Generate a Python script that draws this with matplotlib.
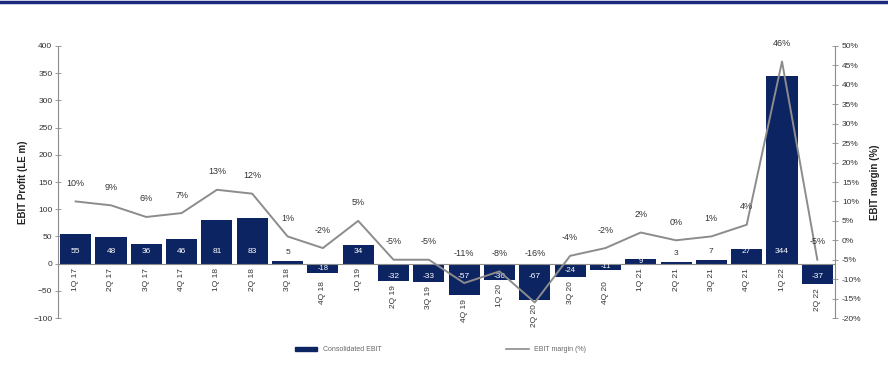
import matplotlib
matplotlib.use("Agg")
import matplotlib.pyplot as plt
from matplotlib.lines import Line2D
from matplotlib.patches import Patch

plt.rcParams['font.family'] = ['Liberation Sans', 'DejaVu Sans']

# quarterly EBIT (LE m) and EBIT margin (%)
quarters = ["1Q 17", "2Q 17", "3Q 17", "4Q 17", "1Q 18", "2Q 18", "3Q 18", "4Q 18",
            "1Q 19", "2Q 19", "3Q 19", "4Q 19", "1Q 20", "2Q 20", "3Q 20", "4Q 20",
            "1Q 21", "2Q 21", "3Q 21", "4Q 21", "1Q 22", "2Q 22"]
ebit = [55, 48, 36, 46, 81, 83, 5, -18, 34, -32, -33, -57, -30, -67, -24, -11,
        9, 3, 7, 27, 344, -37]
margin = [10, 9, 6, 7, 13, 12, 1, -2, 5, -5, -5, -11, -8, -16, -4, -2,
          2, 0, 1, 4, 46, -5]

navy = "#0d2462"
grey = "#8c8c8c"
txt = "#333333"

fig = plt.figure(figsize=(8.88, 3.82), dpi=100)
ax = fig.add_axes([0.0653, 0.1675, 0.875, 0.7121])
ax2 = ax.twinx()

x = list(range(len(quarters)))
ax.bar(x, ebit, width=0.88, color=navy, zorder=2)
ax.set_xlim(-0.5, len(quarters) - 0.5)
ax.set_ylim(-100, 400)
ax.set_yticks(range(-100, 401, 50))
ax.tick_params(axis='y', labelsize=6, colors=txt, direction='inout', length=4,
               width=0.6, color=grey, pad=2)

# category axis sits on the zero line
ax.spines['bottom'].set_position(('data', 0))
ax.spines['top'].set_visible(False)
ax.spines['right'].set_visible(False)
for s in ['left', 'bottom']:
    ax.spines[s].set_color(grey)
    ax.spines[s].set_linewidth(0.8)
ax.set_xticks(x)
ax.set_xticklabels([])
ax.tick_params(axis='x', length=0)
ax.set_ylabel("EBIT Profit (LE m)", fontsize=7, fontweight='bold', color='#222222', labelpad=4)

# quarter names hang under the zero line, or under the bar when it is negative
for xi, q, v in zip(x, quarters, ebit):
    if v < 0:
        anchor = min(v, -24)
    else:
        anchor = 0
    ax.annotate(q, (xi, anchor), xytext=(0, -3), textcoords='offset points',
                rotation=90, ha='center', va='top', fontsize=6, color=txt)

# value labels on the bars
for xi, v in zip(x, ebit):
    if abs(v) < 8:
        ax.annotate(str(v), (xi, max(v, 0)), xytext=(0, 6), textcoords='offset points',
                    ha='center', va='center', fontsize=6, color=txt, zorder=4)
    elif abs(v) < 25:
        ax.annotate(str(v), (xi, v / 2), ha='center', va='center',
                    fontsize=5.5, color='white', zorder=4)
    else:
        off = 9 if v > 0 else -9
        ax.annotate(str(v), (xi, 0), xytext=(0, off), textcoords='offset points',
                    ha='center', va='center', fontsize=6, color='white', zorder=4)

# margin line on the secondary axis
ax2.plot(x, margin, color=grey, lw=1.4, zorder=3)
ax2.set_ylim(-20, 50)
ax2.set_yticks(range(-20, 51, 5))
ax2.set_yticklabels([f"{t}%" for t in range(-20, 51, 5)])
ax2.tick_params(axis='y', labelsize=6, colors=txt, direction='inout', length=4,
                width=0.6, color=grey, pad=3)
for s in ['left', 'top', 'bottom']:
    ax2.spines[s].set_visible(False)
ax2.spines['right'].set_color(grey)
ax2.spines['right'].set_linewidth(0.8)
ax2.set_ylabel("EBIT margin (%)", fontsize=7, fontweight='bold', color='#222222',
               rotation=90, labelpad=6)

for xi, m in zip(x, margin):
    ax2.annotate(f"{m}%", (xi, max(m, -8)), xytext=(0, 13), textcoords='offset points',
                 ha='center', va='center', fontsize=6.5, color=txt)

ax.set_zorder(ax2.get_zorder() - 1)
ax.patch.set_visible(False)

handles = [Patch(facecolor=navy, edgecolor=navy, label="Consolidated EBIT"),
           Line2D([0], [0], color=grey, lw=1.2, label="EBIT margin (%)")]
fig.legend(handles=handles, loc='center', bbox_to_anchor=(0.496, 0.084), ncol=2,
           frameon=False, fontsize=5, columnspacing=18, handlelength=3.2,
           handleheight=0.6, labelcolor='#666666')

# thin rule across the top of the page
fig.add_artist(Line2D([0, 1], [0.996, 0.996], color='#1c2a7c', lw=2.5,
                      transform=fig.transFigure))

fig.savefig("out.png", dpi=100, facecolor='white')
